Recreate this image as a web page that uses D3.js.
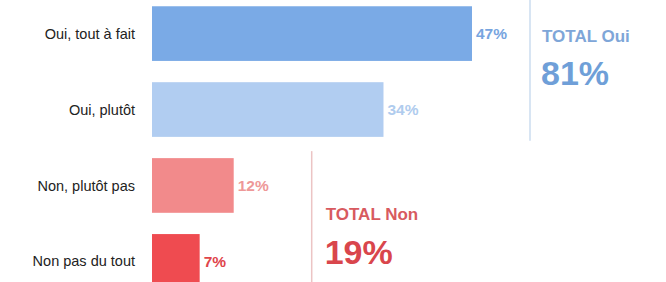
<!DOCTYPE html>
<html>
<head>
<meta charset="utf-8">
<script src="https://cdn.jsdelivr.net/npm/d3@7"></script>
<style>
  body { margin: 0; background: #fff; }
  svg { display: block; font-family: "Liberation Sans", Arial, sans-serif; }
</style>
</head>
<body>
<svg id="chart"></svg>
<script>
const width = 666;
const height = 282;

const categories = ["Oui, tout à fait", "Oui, plutôt", "Non, plutôt pas", "Non pas du tout"];
const values = [47, 34, 12, 7];
const barColors = ["#7aaae6", "#b1cdf1", "#f28a8b", "#ef4b50"];
const labelColors = ["#77a5df", "#b0ccee", "#ee9898", "#e0454b"];

const totalLabels = ["TOTAL Oui", "TOTAL Non"];
const totalValues = [81, 19];

const svg = d3.select("#chart")
              .attr("width", width)
              .attr("height", height);

const xScale = d3.scaleLinear()
                 .domain([0, 47])
                 .range([152, 472]);

const yScale = d3.scaleBand()
                 .domain(categories)
                 .range([-15, 310])
                 .padding(0.28);

// category labels
svg.selectAll(".cat")
   .data(categories)
   .enter()
   .append("text")
   .attr("class", "cat")
   .attr("x", 135)
   .attr("y", d => yScale(d) + yScale.bandwidth() / 2)
   .attr("dy", "0.35em")
   .attr("text-anchor", "end")
   .attr("font-size", 14.5)
   .attr("fill", "#222")
   .text(d => d);

// bars
svg.selectAll(".bar")
   .data(values)
   .enter()
   .append("rect")
   .attr("class", "bar")
   .attr("x", xScale(0))
   .attr("y", (d, i) => yScale(categories[i]))
   .attr("width", d => xScale(d) - xScale(0))
   .attr("height", yScale.bandwidth())
   .attr("fill", (d, i) => barColors[i]);

// value labels
svg.selectAll(".val")
   .data(values)
   .enter()
   .append("text")
   .attr("class", "val")
   .attr("x", d => xScale(d) + 4)
   .attr("y", (d, i) => yScale(categories[i]) + yScale.bandwidth() / 2)
   .attr("dy", "0.35em")
   .attr("font-size", 15.5)
   .attr("font-weight", "bold")
   .attr("fill", (d, i) => labelColors[i])
   .text(d => d + "%");

// total Oui
const ouiX = xScale(values[0]) + 58;
svg.append("line")
   .attr("x1", ouiX).attr("x2", ouiX)
   .attr("y1", 0).attr("y2", yScale(categories[1]) + yScale.bandwidth() + 4)
   .attr("stroke", "#cbdcef")
   .attr("stroke-width", 1.5);
svg.append("text")
   .attr("x", ouiX + 12).attr("y", 42)
   .attr("font-size", 17).attr("font-weight", "bold")
   .attr("fill", "#7ea6d8")
   .text(totalLabels[0]);
svg.append("text")
   .attr("x", ouiX + 11).attr("y", 85)
   .attr("font-size", 34).attr("font-weight", "bold")
   .attr("fill", "#6f9fd8")
   .text(totalValues[0] + "%");

// total Non
const nonX = xScale(values[2]) + 78;
svg.append("line")
   .attr("x1", nonX).attr("x2", nonX)
   .attr("y1", yScale(categories[2]) - 7).attr("y2", height)
   .attr("stroke", "#ecc4c4")
   .attr("stroke-width", 1.5);
svg.append("text")
   .attr("x", nonX + 14).attr("y", 220)
   .attr("font-size", 17).attr("font-weight", "bold")
   .attr("fill", "#d85a5f")
   .text(totalLabels[1]);
svg.append("text")
   .attr("x", nonX + 13).attr("y", 264)
   .attr("font-size", 34).attr("font-weight", "bold")
   .attr("fill", "#d9464c")
   .text(totalValues[1] + "%");
</script>
</body>
</html>
